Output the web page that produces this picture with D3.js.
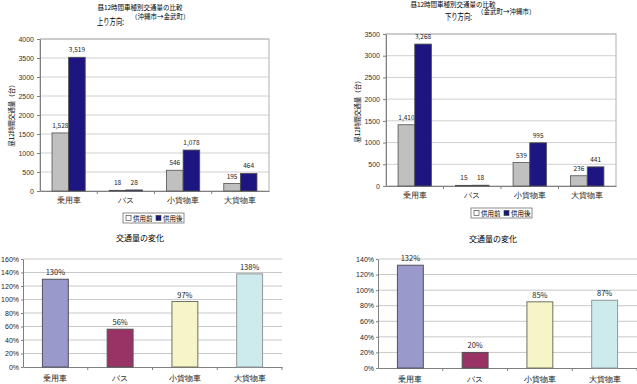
<!DOCTYPE html>
<html>
<head>
<meta charset="utf-8">
<script src="https://cdn.jsdelivr.net/npm/d3@7"></script>
<style>
  body { margin: 0; background: #fff; }
  svg { display: block; font-family: "Noto Sans CJK JP", "DejaVu Sans", sans-serif; }
</style>
</head>
<body>
<svg></svg>
<script>
const svgWidth = 637;
const svgHeight = 384;

const categories = ["乗用車", "バス", "小貨物車", "大貨物車"];
const seriesNames = ["供用前", "供用後"];
const upBefore = [1528, 18, 546, 195];
const upAfter = [3519, 28, 1078, 464];
const downBefore = [1410, 15, 539, 236];
const downAfter = [3268, 18, 995, 441];
const upChange = [130, 56, 97, 138];
const downChange = [132, 20, 85, 87];
const upTicks = [0, 500, 1000, 1500, 2000, 2500, 3000, 3500, 4000];
const downTicks = [0, 500, 1000, 1500, 2000, 2500, 3000, 3500];
const upPctTicks = [0, 20, 40, 60, 80, 100, 120, 140, 160];
const downPctTicks = [0, 20, 40, 60, 80, 100, 120, 140];

const seriesColors = ["#c0c0c0", "#1e1680"];
const changeColors = ["#9999cc", "#993366", "#f5f5c8", "#cdebed"];
const changeStroke = ["#505060", "#505050", "#707060", "#909898"];

const svg = d3.select("svg")
	.attr("width", svgWidth)
	.attr("height", svgHeight);

function drawGrouped (opt) {
	const g = svg.append("g");
	const x = d3.scaleBand()
		.domain(categories)
		.range([opt.left, opt.right]);
	const y = d3.scaleLinear()
		.domain([0, d3.max(opt.ticks)])
		.range([opt.bottom, opt.top]);
	const barW = x.bandwidth() * 0.29;
	const offset = x.bandwidth() * 0.21;

	// gridlines
	g.selectAll(".grid")
		.data(opt.ticks.slice(1))
		.enter()
		.append("line")
			.attr("x1", opt.left)
			.attr("x2", opt.right)
			.attr("y1", d => y(d))
			.attr("y2", d => y(d))
			.attr("stroke", "#d0d0d0")
			.attr("stroke-width", 1);

	// plot border
	g.append("rect")
		.attr("x", opt.left)
		.attr("y", opt.top)
		.attr("width", opt.right - opt.left)
		.attr("height", opt.bottom - opt.top)
		.attr("fill", "none")
		.attr("stroke", "#b0b0b0");

	const yAxis = d3.axisLeft(y)
		.tickValues(opt.ticks)
		.tickFormat(d3.format("d"))
		.tickSize(3)
		.tickSizeOuter(0);
	g.append("g")
		.attr("transform", `translate(${opt.left},0)`)
		.call(yAxis)
		.call(a => a.select(".domain").attr("stroke", "#808080"))
		.call(a => a.selectAll(".tick line").attr("stroke", "#808080"))
		.call(a => a.selectAll("text").attr("font-size", "7px").attr("fill", "#333").attr("font-family", null));

	const xAxis = d3.axisBottom(x).tickSize(0).tickSizeOuter(0);
	g.append("g")
		.attr("transform", `translate(0,${opt.bottom})`)
		.call(xAxis)
		.call(a => a.select(".domain").attr("stroke", "#808080"))
		.call(a => a.selectAll("text").attr("font-size", "7.5px").attr("fill", "#222").attr("dy", "9px").attr("font-family", null));
	// category separators
	g.selectAll(".sep")
		.data(categories.slice(1))
		.enter()
		.append("line")
			.attr("x1", d => x(d))
			.attr("x2", d => x(d))
			.attr("y1", opt.bottom)
			.attr("y2", opt.bottom + 3)
			.attr("stroke", "#808080");

	[opt.before, opt.after].forEach((vals, si) => {
		g.selectAll(".bar" + si)
			.data(vals)
			.enter()
			.append("rect")
				.attr("x", (d, i) => x(categories[i]) + offset + si * barW)
				.attr("y", d => y(d))
				.attr("width", barW)
				.attr("height", d => opt.bottom - y(d))
				.attr("fill", seriesColors[si])
				.attr("stroke", "#505050")
				.attr("stroke-width", 0.8);
		g.selectAll(".lab" + si)
			.data(vals)
			.enter()
			.append("text")
				.text(d => d3.format(",")(d))
				.attr("x", (d, i) => x(categories[i]) + offset + si * barW + barW / 2)
				.attr("y", d => y(d) - 5)
				.attr("font-size", "6.5px")
				.attr("fill", "#222")
				.attr("text-anchor", "middle");
	});

	// titles
	g.append("text")
		.text("昼12時間車種別交通量の比較")
		.attr("x", opt.titleX)
		.attr("y", opt.titleY)
		.attr("font-size", "6.5px")
		.attr("text-anchor", "middle");
	g.append("text")
		.text(opt.dir)
		.attr("x", opt.dirX)
		.attr("y", opt.dirY)
		.attr("font-size", "9px")
		.attr("textLength", 27)
		.attr("lengthAdjust", "spacingAndGlyphs");
	g.append("text")
		.text(opt.route)
		.attr("x", opt.routeX)
		.attr("y", opt.routeY)
		.attr("font-size", "6.5px");

	// y label
	g.append("text")
		.text("昼12時間交通量（台）")
		.attr("transform", `translate(${opt.ylabX},${opt.ylabY}) rotate(-90)`)
		.attr("font-size", "6.5px")
		.attr("text-anchor", "middle");

	// legend
	const lg = g.append("g").attr("transform", `translate(${opt.legX},${opt.legY})`);
	lg.append("rect")
		.attr("width", 61)
		.attr("height", 10)
		.attr("fill", "#fff")
		.attr("stroke", "#707070")
		.attr("stroke-width", 0.8);
	seriesNames.forEach((s, i) => {
		lg.append("rect")
			.attr("x", 3 + i * 30)
			.attr("y", 2.5)
			.attr("width", 5)
			.attr("height", 5)
			.attr("fill", i === 0 ? "#fff" : seriesColors[1])
			.attr("stroke", "#333")
			.attr("stroke-width", 0.6);
		lg.append("text")
			.text(s)
			.attr("x", 10 + i * 30)
			.attr("y", 8)
			.attr("font-size", "6.5px");
	});
}

function drawChange (opt) {
	const g = svg.append("g");
	const x = d3.scaleBand()
		.domain(categories)
		.range([opt.left, opt.right]);
	const y = d3.scaleLinear()
		.domain([0, d3.max(opt.ticks)])
		.range([opt.bottom, opt.top]);
	const barW = x.bandwidth() * 0.4;

	g.selectAll(".grid")
		.data(opt.ticks.slice(1))
		.enter()
		.append("line")
			.attr("x1", opt.left)
			.attr("x2", opt.right)
			.attr("y1", d => y(d))
			.attr("y2", d => y(d))
			.attr("stroke", "#c8c8c8");

	const yAxis = d3.axisLeft(y)
		.tickValues(opt.ticks)
		.tickFormat(d => d + "%")
		.tickSize(2)
		.tickPadding(2)
		.tickSizeOuter(0);
	g.append("g")
		.attr("transform", `translate(${opt.left},0)`)
		.call(yAxis)
		.call(a => a.select(".domain").attr("stroke", "#808080"))
		.call(a => a.selectAll(".tick line").attr("stroke", "#808080"))
		.call(a => a.selectAll("text").attr("font-size", "7px").attr("fill", "#222").attr("font-family", null));

	const xAxis = d3.axisBottom(x).tickSize(0).tickSizeOuter(0);
	g.append("g")
		.attr("transform", `translate(0,${opt.bottom})`)
		.call(xAxis)
		.call(a => a.select(".domain").attr("stroke", "#808080"))
		.call(a => a.selectAll("text").attr("font-size", "8px").attr("fill", "#111").attr("dy", "11px").attr("font-family", null));
	g.selectAll(".sep")
		.data(categories.slice(1).concat([null]))
		.enter()
		.append("line")
			.attr("x1", d => d ? x(d) : opt.right)
			.attr("x2", d => d ? x(d) : opt.right)
			.attr("y1", opt.bottom)
			.attr("y2", opt.bottom + 3)
			.attr("stroke", "#808080");

	g.selectAll(".bar")
		.data(opt.values)
		.enter()
		.append("rect")
			.attr("x", (d, i) => x(categories[i]) + (x.bandwidth() - barW) / 2)
			.attr("y", d => y(d))
			.attr("width", barW)
			.attr("height", d => opt.bottom - y(d))
			.attr("fill", (d, i) => changeColors[i])
			.attr("stroke", (d, i) => changeStroke[i])
			.attr("stroke-width", 1);

	g.selectAll(".lab")
		.data(opt.values)
		.enter()
		.append("text")
			.text(d => d + "%")
			.attr("x", (d, i) => x(categories[i]) + x.bandwidth() / 2)
			.attr("y", d => y(d) - 4)
			.attr("font-size", "7.5px")
			.attr("fill", "#222")
			.attr("text-anchor", "middle");

	g.append("text")
		.text("交通量の変化")
		.attr("x", opt.titleX)
		.attr("y", opt.titleY)
		.attr("font-size", "8px")
		.attr("text-anchor", "middle");
}

drawGrouped({
	left: 40, right: 269, top: 39, bottom: 191,
	ticks: upTicks, before: upBefore, after: upAfter,
	titleX: 140, titleY: 10, dir: "上り方向:", dirX: 97, dirY: 25,
	route: "（沖縄市→金武町）", routeX: 131, routeY: 19,
	ylabX: 14, ylabY: 114, legX: 123, legY: 213
});

drawGrouped({
	left: 386, right: 616, top: 34, bottom: 186,
	ticks: downTicks, before: downBefore, after: downAfter,
	titleX: 453, titleY: 7, dir: "下り方向:", dirX: 445, dirY: 20,
	route: "（金武町→沖縄市）", routeX: 477, routeY: 14,
	ylabX: 360, ylabY: 110, legX: 471, legY: 208
});

drawChange({
	left: 23, right: 282, top: 259, bottom: 367,
	ticks: upPctTicks, values: upChange,
	titleX: 140, titleY: 241
});

drawChange({
	left: 378, right: 637, top: 259, bottom: 368,
	ticks: downPctTicks, values: downChange,
	titleX: 493, titleY: 242
});
</script>
</body>
</html>
